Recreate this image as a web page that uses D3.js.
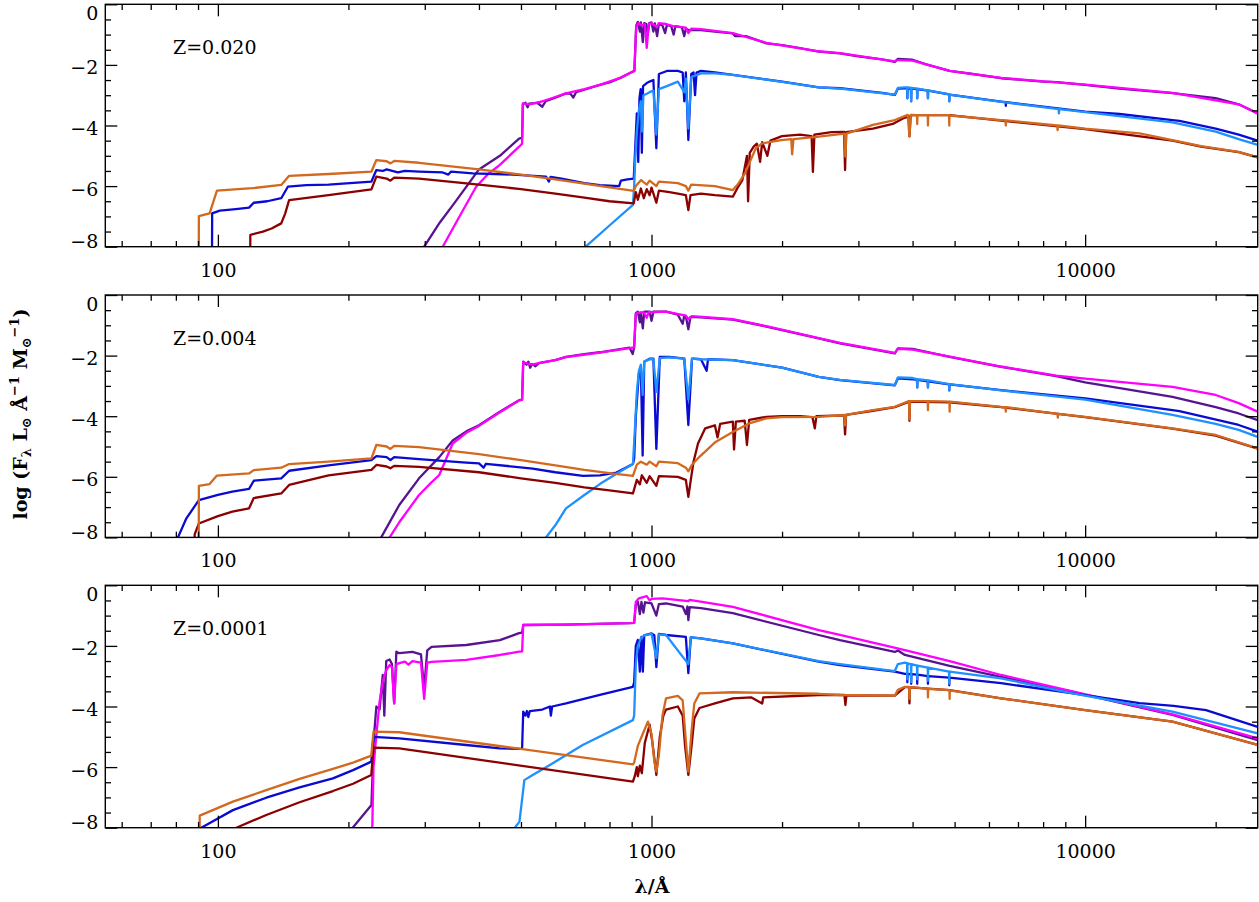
<!DOCTYPE html>
<html><head><meta charset="utf-8">
<script src="https://cdn.jsdelivr.net/npm/d3@7"></script>
<style>
html,body{margin:0;padding:0;background:#fff;}
svg{display:block;}
text{font-family:"DejaVu Serif",serif;fill:#000;}
</style></head><body>
<svg id="chart" width="1259" height="902"></svg>
<script>
// ---------- axis / label data ----------
const xDomain = [55, 25000];
const yDomain = [-8, 0];
const xMajorTicks = [100, 1000, 10000];
const xMinorTicks = [60,70,80,90,200,300,400,500,600,700,800,900,2000,3000,4000,5000,6000,7000,8000,9000,20000];
const yMajorTicks = [0, -2, -4, -6, -8];
const yMinorTicks = [-0.5,-1,-1.5,-2.5,-3,-3.5,-4.5,-5,-5.5,-6.5,-7,-7.5];
const panelLabels = ["Z=0.020", "Z=0.004", "Z=0.0001"];
const seriesNames = ["purple","magenta","blue","lightblue","darkred","orange"];
const seriesColors = ["#561490","#ff00ff","#0a0ad2","#1e90ff","#8b0000","#d2691e"];

// ---------- Panel 1: Z=0.020  [wavelength (A), log F] ----------
const p1_purple = [[297,-9],[299,-8],[325,-7.2],[351,-6.56],[375,-6.0],[400,-5.45],[447,-5.0],[495,-4.43],[503,-4.4],[505,-3.3],[512,-3.25],[518,-3.4],[522,-3.28],[545,-3.25],[560,-3.38],[570,-3.2],[600,-3.08],[635,-2.94],[650,-2.95],[660,-3.08],[670,-2.9],[700,-2.82],[760,-2.66],[800,-2.58],[850,-2.42],[906,-2.22],[913,-2.2],[922,-0.7],[930,-0.58],[940,-0.9],[945,-0.6],[955,-1.25],[962,-0.62],[972,-0.65],[980,-1.0],[988,-0.62],[1000,-0.6],[1010,-0.9],[1018,-0.63],[1030,-1.05],[1040,-0.65],[1060,-0.7],[1075,-0.95],[1085,-0.68],[1110,-0.72],[1125,-1.0],[1135,-0.72],[1175,-0.76],[1190,-1.05],[1200,-0.8],[1216,-0.85],[1300,-0.85],[1400,-0.9],[1540,-0.96],[1560,-1.05],[1650,-1.05],[1840,-1.29],[2000,-1.35],[2200,-1.45],[2430,-1.56],[2720,-1.62],[3000,-1.72],[3400,-1.82],[3640,-1.9],[3700,-1.8],[4000,-1.83],[4300,-1.98],[4870,-2.2],[5500,-2.3],[6400,-2.44],[8000,-2.55],[8600,-2.57],[10000,-2.66],[12000,-2.78],[15900,-2.93],[20000,-3.1],[22600,-3.3],[25000,-3.6]];
const p1_magenta = [[328,-9],[330,-8],[357,-7.12],[394,-6.02],[420,-5.6],[447,-5.3],[495,-4.7],[503,-4.6],[505,-3.27],[520,-3.3],[532,-3.28],[560,-3.2],[600,-3.06],[635,-2.94],[700,-2.8],[760,-2.66],[850,-2.42],[906,-2.22],[913,-2.2],[922,-0.72],[935,-0.62],[950,-0.7],[965,-0.65],[975,-1.44],[985,-0.65],[1000,-0.62],[1030,-0.75],[1040,-0.62],[1080,-0.65],[1120,-0.72],[1200,-0.77],[1216,-0.95],[1235,-0.8],[1300,-0.82],[1540,-0.95],[1840,-1.27],[2430,-1.55],[2720,-1.61],[3640,-1.88],[3700,-1.84],[4000,-1.86],[4870,-2.2],[6400,-2.43],[10000,-2.65],[15900,-2.92],[22600,-3.3],[25000,-3.6]];
const p1_blue = [[96.9,-9],[97,-6.9],[101,-6.81],[110,-6.76],[118,-6.71],[121,-6.55],[130,-6.5],[140,-6.4],[145,-6.02],[160,-5.97],[180,-5.95],[226,-5.85],[232,-5.47],[240,-5.5],[245,-5.45],[260,-5.55],[270,-5.5],[291,-5.52],[330,-5.55],[340,-5.62],[345,-5.52],[387,-5.58],[480,-5.62],[571,-5.69],[580,-5.85],[585,-5.7],[620,-5.75],[700,-5.9],[760,-5.97],[842,-6.0],[850,-5.82],[880,-5.78],[910,-5.75],[918,-4.6],[925,-3.6],[932,-5.2],[938,-3.1],[944,-2.8],[950,-4.9],[956,-2.7],[975,-2.6],[990,-2.55],[1010,-2.5],[1026,-4.75],[1040,-2.3],[1085,-2.2],[1150,-2.2],[1180,-2.25],[1190,-3.2],[1200,-2.25],[1216,-4.48],[1235,-2.3],[1250,-2.25],[1260,-3.0],[1270,-2.25],[1300,-2.2],[1400,-2.25],[1540,-2.33],[2000,-2.55],[2430,-2.74],[2720,-2.77],[3400,-2.92],[3640,-2.99],[3700,-2.78],[3840,-2.77],[3885,-2.77],[3890,-3.1],[3895,-2.77],[3965,-2.78],[3970,-3.2],[3975,-2.78],[4095,-2.8],[4100,-3.1],[4105,-2.8],[4335,-2.85],[4340,-3.1],[4345,-2.85],[4855,-2.97],[4860,-3.2],[4865,-2.98],[6400,-3.21],[6555,-3.23],[6562,-3.35],[6570,-3.23],[10000,-3.54],[12000,-3.62],[15900,-3.82],[16500,-3.85],[20000,-4.1],[22600,-4.3],[25000,-4.5]];
const p1_lightblue = [[680,-8.3],[705,-8],[800,-7.3],[906,-6.62],[912,-6.0],[918,-5.0],[925,-4.2],[935,-3.5],[945,-3.2],[950,-4.2],[958,-3.0],[975,-2.95],[990,-2.9],[1010,-2.85],[1026,-4.3],[1040,-2.8],[1085,-2.7],[1150,-2.55],[1190,-2.9],[1200,-2.45],[1216,-4.1],[1235,-2.4],[1300,-2.28],[1400,-2.28],[1540,-2.33],[2000,-2.56],[2430,-2.74],[2720,-2.78],[3640,-2.98],[3700,-2.76],[3840,-2.74],[3885,-2.74],[3890,-3.1],[3895,-2.74],[3965,-2.76],[3970,-3.2],[3975,-2.76],[4095,-2.78],[4100,-3.1],[4105,-2.78],[4335,-2.84],[4340,-3.1],[4345,-2.84],[4855,-2.97],[4860,-3.2],[4865,-2.98],[6400,-3.22],[8600,-3.45],[8680,-3.46],[8700,-3.6],[8720,-3.46],[10000,-3.56],[15900,-3.9],[20000,-4.2],[22600,-4.45],[25000,-4.64]];
const p1_darkred = [[118.7,-9],[118.8,-7.61],[127,-7.5],[133,-7.4],[140,-7.23],[143,-6.9],[146,-6.46],[180,-6.3],[226,-6.11],[232,-5.69],[245,-5.75],[250,-5.82],[255,-5.72],[291,-5.75],[400,-5.95],[500,-6.1],[600,-6.25],[700,-6.38],[800,-6.5],[910,-6.57],[920,-6.2],[930,-6.45],[945,-6.08],[960,-6.4],[975,-6.1],[990,-6.3],[1000,-6.05],[1026,-6.55],[1040,-6.15],[1100,-6.2],[1150,-6.25],[1200,-6.3],[1216,-6.79],[1230,-6.3],[1300,-6.25],[1400,-6.3],[1540,-6.35],[1580,-6.05],[1620,-5.8],[1660,-5.0],[1670,-6.5],[1685,-4.9],[1720,-4.7],[1750,-4.6],[1780,-5.2],[1800,-4.55],[1850,-5.0],[1880,-4.5],[2000,-4.35],[2200,-4.3],[2340,-4.35],[2356,-5.53],[2375,-4.3],[2600,-4.22],[2780,-4.21],[2795,-5.47],[2810,-4.22],[3240,-4.1],[3600,-3.95],[3800,-3.77],[3920,-3.7],[3934,-4.35],[3960,-3.68],[4000,-3.66],[4860,-3.66],[6400,-3.84],[10000,-4.12],[15900,-4.5],[18500,-4.7],[22600,-4.88],[25000,-5.05]];
const p1_orange = [[90.3,-9],[90.4,-6.99],[95.7,-6.9],[99.5,-6.15],[120,-6.07],[140,-5.96],[146,-5.66],[180,-5.6],[226,-5.52],[232,-5.14],[245,-5.18],[250,-5.25],[255,-5.17],[291,-5.23],[400,-5.45],[500,-5.62],[600,-5.78],[700,-5.92],[800,-6.04],[910,-6.16],[920,-6.0],[946,-5.8],[975,-5.95],[990,-5.82],[1026,-6.0],[1040,-5.85],[1150,-5.9],[1200,-6.0],[1216,-6.15],[1235,-5.95],[1400,-6.0],[1540,-6.13],[1580,-5.95],[1640,-5.6],[1680,-5.25],[1740,-4.75],[1800,-4.59],[1990,-4.48],[2100,-4.45],[2110,-4.95],[2125,-4.45],[2430,-4.37],[2785,-4.27],[2800,-5.03],[2815,-4.27],[3240,-3.98],[3640,-3.82],[3900,-3.65],[3934,-4.37],[3960,-3.65],[4095,-3.66],[4100,-3.95],[4105,-3.66],[4335,-3.66],[4340,-4.0],[4345,-3.66],[4855,-3.66],[4860,-4.0],[4865,-3.67],[6400,-3.82],[6550,-3.83],[6562,-4.0],[6575,-3.83],[8620,-4.0],[8640,-4.15],[8660,-4.0],[10000,-4.1],[13350,-4.26],[15900,-4.48],[18500,-4.68],[22600,-4.87],[25000,-5.05]];

// ---------- Panel 2: Z=0.004 ----------
const p2_purple = [[236,-9],[238,-8],[262,-6.93],[291,-6.05],[324,-5.35],[348,-4.8],[374,-4.5],[400,-4.3],[447,-3.85],[495,-3.47],[503,-3.45],[506,-2.2],[515,-2.3],[520,-2.2],[525,-2.4],[530,-2.28],[540,-2.35],[550,-2.25],[600,-2.15],[635,-2.04],[700,-1.95],[760,-1.89],[890,-1.74],[905,-1.95],[912,-1.72],[920,-0.6],[930,-0.55],[940,-0.9],[945,-0.58],[955,-1.1],[962,-0.55],[990,-0.55],[1000,-0.85],[1010,-0.55],[1080,-0.55],[1150,-0.65],[1180,-0.95],[1190,-0.68],[1200,-0.7],[1216,-1.13],[1230,-0.72],[1300,-0.74],[1540,-0.81],[1840,-1.04],[2430,-1.43],[2720,-1.6],[3640,-1.93],[3700,-1.76],[4000,-1.78],[4870,-2.04],[6400,-2.37],[8580,-2.68],[10000,-2.88],[15900,-3.36],[20000,-3.7],[22600,-3.91],[25000,-4.13]];
const p2_magenta = [[247,-9],[249,-8],[262,-7.5],[291,-6.6],[310,-6.2],[324,-5.94],[348,-4.9],[374,-4.55],[400,-4.32],[447,-3.87],[495,-3.48],[503,-3.46],[506,-2.22],[530,-2.3],[560,-2.22],[600,-2.15],[635,-2.05],[760,-1.9],[890,-1.75],[912,-1.73],[920,-0.62],[935,-0.58],[960,-0.57],[975,-0.75],[985,-0.57],[1080,-0.55],[1200,-0.68],[1216,-0.8],[1240,-0.7],[1540,-0.8],[1840,-1.03],[2430,-1.42],[2720,-1.58],[3640,-1.91],[3700,-1.78],[4000,-1.8],[4870,-2.03],[6400,-2.36],[8580,-2.66],[10000,-2.76],[15900,-3.03],[20000,-3.3],[22600,-3.57],[25000,-3.85]];
const p2_blue = [[80.8,-9],[80.9,-8],[84.6,-7.37],[90.4,-6.77],[100,-6.6],[108,-6.49],[118,-6.4],[121,-6.13],[140,-6.05],[146,-5.8],[180,-5.62],[226,-5.45],[232,-5.32],[245,-5.35],[250,-5.45],[255,-5.35],[291,-5.42],[374,-5.53],[400,-5.56],[410,-5.7],[415,-5.57],[532,-5.73],[600,-5.85],[695,-5.97],[760,-5.95],[830,-5.86],[906,-5.58],[912,-5.4],[920,-4.0],[935,-2.6],[945,-2.4],[954,-5.3],[962,-2.2],[990,-2.1],[1010,-2.1],[1026,-5.08],[1045,-2.04],[1100,-2.04],[1190,-2.1],[1216,-4.29],[1240,-2.1],[1300,-2.12],[1340,-2.5],[1350,-2.12],[1540,-2.15],[2000,-2.4],[2430,-2.7],[2720,-2.81],[3640,-2.98],[3700,-2.75],[4000,-2.78],[4095,-2.8],[4100,-3.05],[4105,-2.8],[4335,-2.85],[4340,-3.05],[4345,-2.85],[4855,-2.95],[4860,-3.15],[4865,-2.95],[6400,-3.14],[10000,-3.41],[15900,-3.8],[16500,-3.83],[22600,-4.29],[25000,-4.51]];
const p2_lightblue = [[555,-8.3],[571,-8],[600,-7.6],[635,-7.04],[700,-6.6],[760,-6.24],[830,-5.9],[906,-5.58],[915,-4.5],[925,-3.2],[935,-2.5],[945,-2.3],[954,-3.3],[962,-2.2],[990,-2.12],[1010,-2.12],[1026,-3.2],[1045,-2.08],[1100,-2.06],[1190,-2.1],[1216,-3.45],[1240,-2.1],[1300,-2.12],[1540,-2.15],[2000,-2.4],[2430,-2.7],[2720,-2.8],[3640,-2.97],[3700,-2.72],[4000,-2.74],[4095,-2.78],[4100,-3.05],[4105,-2.78],[4335,-2.82],[4340,-3.05],[4345,-2.82],[4855,-2.94],[4860,-3.15],[4865,-2.94],[6400,-3.15],[10000,-3.45],[15900,-3.96],[20000,-4.25],[22600,-4.45],[25000,-4.68]];
const p2_darkred = [[88.3,-9],[88.4,-7.9],[90.4,-7.54],[100,-7.3],[108,-7.15],[118,-7.04],[121,-6.7],[140,-6.55],[146,-6.27],[180,-5.95],[226,-5.77],[232,-5.61],[245,-5.66],[250,-5.72],[255,-5.64],[291,-5.67],[400,-5.85],[500,-6.05],[600,-6.2],[700,-6.35],[800,-6.45],[906,-6.55],[925,-6.1],[940,-6.25],[950,-5.95],[975,-6.2],[990,-5.98],[1026,-6.3],[1040,-5.98],[1150,-6.0],[1200,-6.1],[1216,-6.66],[1232,-6.1],[1250,-5.5],[1280,-4.9],[1330,-4.4],[1400,-4.3],[1420,-4.7],[1440,-4.25],[1540,-4.18],[1550,-5.1],[1565,-4.18],[1640,-4.15],[1660,-4.95],[1680,-4.12],[1840,-4.02],[2000,-4.0],[2200,-4.0],[2350,-4.03],[2380,-4.4],[2400,-4.0],[2780,-3.97],[2795,-4.6],[2810,-3.96],[3240,-3.82],[3640,-3.7],[3925,-3.52],[3934,-4.15],[3945,-3.52],[4870,-3.54],[6400,-3.7],[10000,-4.03],[15900,-4.41],[20000,-4.64],[25000,-5.07]];
const p2_orange = [[90.3,-9],[90.4,-6.30],[95.7,-6.24],[99.5,-5.96],[118,-5.89],[121,-5.78],[140,-5.7],[146,-5.58],[180,-5.5],[226,-5.39],[232,-4.95],[245,-5.0],[250,-5.08],[255,-4.98],[291,-5.02],[400,-5.25],[500,-5.45],[600,-5.62],[700,-5.77],[800,-5.88],[906,-5.97],[925,-5.6],[945,-5.5],[975,-5.6],[990,-5.5],[1026,-5.65],[1040,-5.5],[1150,-5.55],[1200,-5.7],[1216,-5.82],[1240,-5.6],[1290,-5.34],[1405,-4.85],[1550,-4.5],[1680,-4.24],[1840,-4.07],[2000,-4.03],[2430,-4.02],[2780,-3.96],[2795,-4.3],[2810,-3.96],[3240,-3.8],[3640,-3.69],[3925,-3.5],[3934,-4.1],[3945,-3.5],[4335,-3.5],[4340,-3.8],[4345,-3.5],[4865,-3.52],[4870,-3.85],[4875,-3.52],[6400,-3.69],[6550,-3.7],[6562,-3.85],[6575,-3.7],[8630,-3.92],[8650,-4.05],[8670,-3.92],[10000,-4.02],[15900,-4.40],[20000,-4.62],[25000,-5.06]];

// ---------- Panel 3: Z=0.0001 ----------
const p3_purple = [[204,-9],[204.6,-8],[226,-7.25],[229,-5.0],[232,-4.0],[236,-4.1],[238,-3.5],[240,-2.96],[242,-4.3],[244.5,-2.5],[248.9,-2.45],[252,-2.6],[255,-3.9],[258,-2.19],[262,-2.24],[281,-2.2],[294,-2.28],[299,-3.4],[304,-2.15],[311,-2.03],[374,-1.97],[447,-1.81],[495,-1.58],[503,-1.56],[506,-1.31],[635,-1.3],[890,-1.25],[912,-1.24],[920,-0.65],[930,-0.54],[940,-0.95],[948,-0.55],[958,-0.9],[966,-0.56],[1000,-0.6],[1026,-1.0],[1040,-0.62],[1080,-0.6],[1180,-0.7],[1200,-0.95],[1210,-0.7],[1216,-1.15],[1225,-0.72],[1300,-0.75],[1540,-0.92],[2430,-1.64],[2720,-1.81],[3640,-2.2],[3700,-2.15],[3840,-2.3],[4870,-2.66],[6400,-3.02],[9300,-3.51],[15900,-4.28],[25000,-5.11]];
const p3_magenta = [[226.5,-9],[227,-8],[228.5,-6.0],[232,-4.94],[236,-3.84],[240,-3.18],[244.5,-2.8],[249,-2.63],[252,-2.7],[255,-3.9],[258,-2.6],[262,-2.57],[270,-2.52],[275,-2.62],[281,-2.5],[294,-2.55],[299,-3.75],[304,-2.55],[311,-2.53],[374,-2.46],[447,-2.3],[495,-2.19],[503,-2.18],[506,-1.31],[635,-1.3],[890,-1.25],[912,-1.24],[920,-0.55],[935,-0.43],[975,-0.36],[990,-0.5],[1000,-0.45],[1060,-0.43],[1216,-0.52],[1225,-0.48],[1540,-0.71],[2430,-1.48],[2720,-1.64],[3840,-2.14],[4870,-2.5],[6400,-2.96],[9300,-3.49],[15900,-4.26],[25000,-5.05]];
const p3_blue = [[91.5,-9],[91.6,-8],[108.3,-7.42],[129.3,-7.01],[154.3,-6.67],[184.2,-6.37],[205,-6.1],[225.8,-5.82],[228.5,-5.0],[262,-5.05],[374,-5.27],[447,-5.38],[500,-5.4],[503,-5.38],[506,-4.17],[512,-4.3],[516,-4.15],[520,-4.35],[524,-4.15],[560,-4.1],[583,-4.0],[586,-4.3],[590,-4.0],[635,-3.9],[760,-3.62],[906,-3.35],[912,-3.2],[920,-2.0],[930,-1.8],[940,-2.85],[948,-1.7],[955,-2.85],[962,-1.65],[1000,-1.59],[1015,-1.65],[1026,-2.7],[1040,-1.6],[1080,-1.64],[1200,-1.7],[1216,-2.9],[1232,-1.72],[1300,-1.75],[1540,-1.92],[2430,-2.52],[2720,-2.63],[3640,-2.85],[3840,-2.92],[3885,-2.92],[3890,-3.2],[3895,-2.92],[3965,-2.93],[3970,-3.25],[3975,-2.93],[4095,-2.95],[4100,-3.25],[4105,-2.95],[4335,-3.0],[4340,-3.25],[4345,-3.0],[4855,-3.05],[4860,-3.3],[4865,-3.05],[6400,-3.23],[9300,-3.56],[13350,-3.89],[16000,-3.98],[19000,-4.12],[25000,-4.67]];
const p3_lightblue = [[480,-8.4],[484,-8],[496,-7.8],[509,-6.43],[532,-6.26],[583,-5.93],[694,-5.27],[906,-4.45],[912,-4.3],[920,-2.6],[930,-2.0],[945,-1.75],[962,-1.65],[1000,-1.6],[1026,-2.4],[1040,-1.62],[1080,-1.64],[1216,-2.6],[1232,-1.72],[1300,-1.75],[1540,-1.92],[2430,-2.5],[2720,-2.6],[3640,-2.83],[3700,-2.6],[3840,-2.55],[3885,-2.57],[3890,-3.1],[3895,-2.58],[3965,-2.6],[3970,-3.2],[3975,-2.6],[4095,-2.65],[4100,-3.1],[4105,-2.65],[4335,-2.72],[4340,-3.15],[4345,-2.72],[4855,-2.85],[4860,-3.25],[4865,-2.85],[6400,-3.07],[9300,-3.56],[15900,-4.17],[25000,-4.89]];
const p3_darkred = [[110.2,-9],[110.3,-8],[129.3,-7.58],[154.3,-7.16],[184.2,-6.79],[205,-6.55],[225.8,-6.26],[228.5,-5.36],[262,-5.38],[906,-6.48],[915,-6.3],[925,-6.0],[930,-6.3],[940,-5.95],[950,-6.2],[965,-5.2],[990,-4.6],[1005,-5.2],[1026,-6.26],[1045,-5.0],[1065,-4.3],[1080,-4.1],[1150,-4.0],[1180,-4.3],[1195,-5.3],[1216,-6.26],[1237,-5.3],[1255,-4.4],[1290,-4.05],[1400,-3.9],[1540,-3.73],[1700,-3.7],[1800,-3.9],[1810,-3.7],[2430,-3.62],[2785,-3.62],[2800,-3.95],[2815,-3.63],[3640,-3.64],[3840,-3.36],[3925,-3.36],[3934,-3.9],[3945,-3.37],[4870,-3.46],[6400,-3.73],[10000,-4.12],[15900,-4.5],[25000,-5.27]];
const p3_orange = [[90.7,-9],[90.8,-7.6],[108.3,-7.14],[129.3,-6.76],[154.3,-6.39],[184.2,-6.06],[205,-5.85],[225.8,-5.62],[228.5,-4.83],[262,-4.85],[906,-5.91],[912,-5.85],[930,-5.3],[955,-4.9],[981,-4.5],[1000,-4.9],[1015,-5.8],[1026,-6.15],[1040,-5.6],[1060,-4.3],[1080,-3.73],[1150,-3.65],[1180,-3.8],[1195,-4.8],[1216,-6.15],[1237,-4.8],[1255,-3.9],[1290,-3.57],[1540,-3.53],[2430,-3.58],[2720,-3.62],[3640,-3.64],[3700,-3.45],[3840,-3.35],[3925,-3.35],[3934,-3.75],[3945,-3.36],[4100,-3.38],[4335,-3.42],[4340,-3.7],[4345,-3.42],[4865,-3.46],[4870,-3.75],[4875,-3.47],[6400,-3.73],[10000,-4.12],[15900,-4.5],[25000,-5.27]];

const panelSeries = [
  [p1_purple, p1_magenta, p1_blue, p1_lightblue, p1_darkred, p1_orange],
  [p2_purple, p2_magenta, p2_blue, p2_lightblue, p2_darkred, p2_orange],
  [p3_purple, p3_magenta, p3_blue, p3_lightblue, p3_darkred, p3_orange]
];

// ---------- layout ----------
const left = 105.3, right = 1257.7;
const panelTops = [4.3, 295, 585.3];
const panelH = 242.4;
const majorLen = 12, minorLen = 5.7;
const svg = d3.select("#chart");
const x = d3.scaleLog().domain(xDomain).range([left, right]);
const fmt = d3.format("d");

panelSeries.forEach((series, i) => {
  const top = panelTops[i], bottom = top + panelH;
  const y = d3.scaleLinear().domain(yDomain).range([bottom, top]);
  const g = svg.append("g");
  const cid = "clip" + i;
  svg.append("clipPath").attr("id", cid).append("rect")
    .attr("x", left).attr("y", top).attr("width", right - left).attr("height", panelH);
  const line = d3.line().x(d => x(d[0])).y(d => y(d[1]));
  const lg = g.append("g").attr("clip-path", `url(#${cid})`);
  series.forEach((s, k) => {
    lg.append("path").attr("d", line(s)).attr("fill", "none")
      .attr("stroke", seriesColors[k]).attr("stroke-width", 2.3)
      .attr("stroke-linejoin", "round").attr("stroke-linecap", "butt");
  });

  const style = sel => { sel.select(".domain").remove(); sel.selectAll(".tick line").attr("stroke", "#000").attr("stroke-width", 1.3); };
  // bottom
  g.append("g").attr("transform", `translate(0,${bottom})`)
    .call(d3.axisBottom(x).tickValues(xMinorTicks).tickSize(-minorLen).tickFormat("")).call(style);
  const bx = g.append("g").attr("transform", `translate(0,${bottom})`)
    .call(d3.axisBottom(x).tickValues(xMajorTicks).tickSize(-majorLen).tickPadding(16.5).tickFormat(fmt)).call(style);
  bx.selectAll("text").attr("font-family", "DejaVu Serif").attr("font-size", 19).attr("fill", "#000");
  // top
  g.append("g").attr("transform", `translate(0,${top})`)
    .call(d3.axisTop(x).tickValues(xMinorTicks).tickSize(-minorLen).tickFormat("")).call(style);
  g.append("g").attr("transform", `translate(0,${top})`)
    .call(d3.axisTop(x).tickValues(xMajorTicks).tickSize(-majorLen).tickFormat("")).call(style);
  // left
  g.append("g").attr("transform", `translate(${left},0)`)
    .call(d3.axisLeft(y).tickValues(yMinorTicks).tickSize(-minorLen).tickFormat("")).call(style);
  const ly = g.append("g").attr("transform", `translate(${left},0)`)
    .call(d3.axisLeft(y).tickValues(yMajorTicks).tickSize(-majorLen).tickPadding(7)).call(style);
  ly.selectAll("text").attr("font-family", "DejaVu Serif").attr("font-size", 19).attr("fill", "#000")
    .attr("dy", null).attr("dominant-baseline", "central")
    .attr("y", d => d === 0 ? 8 : (d === -8 ? -6 : 2));
  // right
  g.append("g").attr("transform", `translate(${right},0)`)
    .call(d3.axisRight(y).tickValues(yMinorTicks).tickSize(-minorLen).tickFormat("")).call(style);
  g.append("g").attr("transform", `translate(${right},0)`)
    .call(d3.axisRight(y).tickValues(yMajorTicks).tickSize(-majorLen).tickFormat("")).call(style);
  // frame
  g.append("rect").attr("x", left).attr("y", top).attr("width", right - left).attr("height", panelH)
    .attr("fill", "none").attr("stroke", "#000").attr("stroke-width", 1.4);
  // panel label
  g.append("text").attr("x", 173).attr("y", top + 50).attr("font-size", 19).text(panelLabels[i]);
});

// y title
const yt = svg.append("text").attr("transform", "translate(27,414) rotate(-90)")
  .attr("text-anchor", "middle").attr("font-size", 19).attr("font-weight", "bold");
yt.append("tspan").text("log (F");
yt.append("tspan").attr("font-size", 13).attr("dy", 4).text("λ");
yt.append("tspan").attr("dy", -4).text(" L");
yt.append("tspan").attr("font-size", 13).attr("dy", 4).text("⊙");
yt.append("tspan").attr("dy", -4).text(" Å");
yt.append("tspan").attr("font-size", 13).attr("dy", -8).text("−1");
yt.append("tspan").attr("dy", 8).text(" M");
yt.append("tspan").attr("font-size", 13).attr("dy", 4).text("⊙");
yt.append("tspan").attr("font-size", 13).attr("dy", -12).text("−1");
yt.append("tspan").attr("dy", 8).text(")");

// x title
svg.append("text").attr("x", 652).attr("y", 893).attr("text-anchor", "middle")
  .attr("font-size", 19).attr("font-weight", "bold").text("λ/Å");
</script>
</body></html>
